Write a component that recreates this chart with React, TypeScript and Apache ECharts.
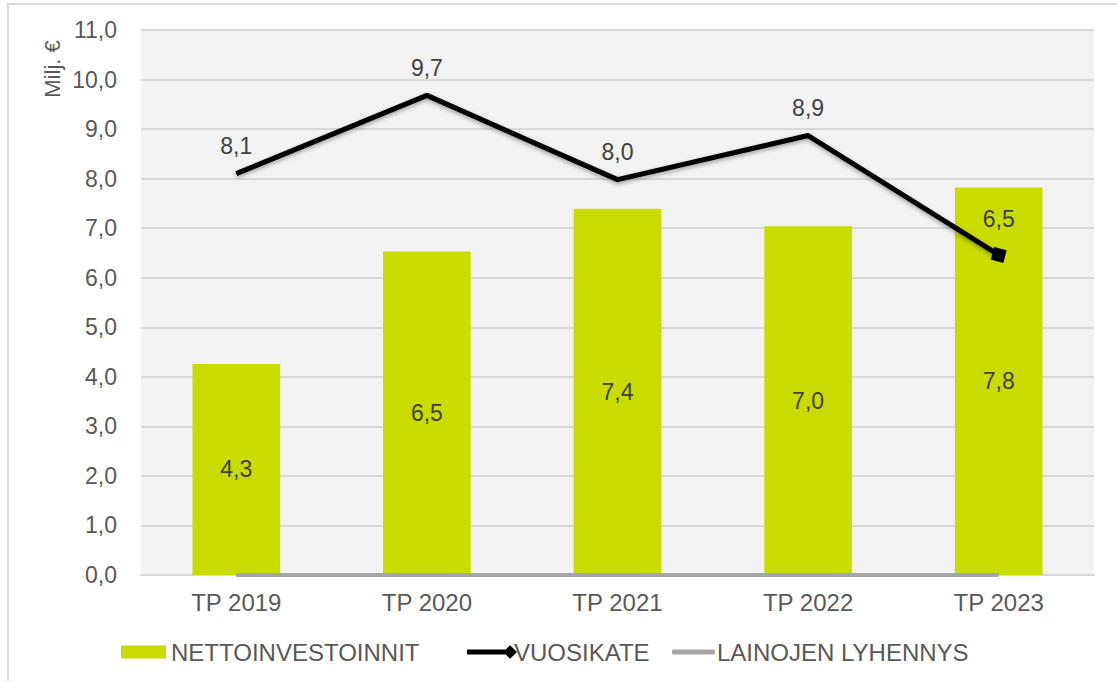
import React, { useEffect, useRef } from "react";
import * as echarts from "echarts";

const categories = ["TP 2019", "TP 2020", "TP 2021", "TP 2022", "TP 2023"];
const nettoinvestoinnit = [4.26, 6.53, 7.39, 7.04, 7.82];
const vuosikate = [8.1, 9.68, 7.98, 8.87, 6.46];
const lainojenLyhennys = [0, 0, 0, 0, 0];
const yAxisName = "Milj. €";

const TEXT = "#595959";
const FONT = "'Liberation Sans', Arial, sans-serif";
const fmt = (v: number) => v.toFixed(1).replace(".", ",");

export default function App() {
  const ref = useRef<HTMLDivElement>(null);
  useEffect(() => {
    if (!ref.current) return;
    const chart = echarts.init(ref.current, undefined, { renderer: "svg" });
    const lastIdx = vuosikate.length - 1;
    chart.setOption({
      animation: false,
      backgroundColor: "#ffffff",
      textStyle: { fontFamily: FONT },
      grid: { left: 141, right: 23, top: 30, bottom: 106, show: true, backgroundColor: "#f2f2f2", borderWidth: 0 },
      graphic: [
        {
          type: "rect",
          shape: { x: 8, y: 4, width: 1200, height: 800 },
          style: { fill: "none", stroke: "#d9d9d9", lineWidth: 2 },
          silent: true,
          z: -1,
        },
        {
          type: "text",
          x: 52,
          y: 69,
          rotation: Math.PI / 2,
          style: { text: yAxisName, fill: TEXT, font: `22px ${FONT}`, align: "center", verticalAlign: "middle" },
        },
      ],
      xAxis: {
        type: "category",
        data: categories,
        axisTick: { show: false },
        axisLine: { lineStyle: { color: "#d9d9d9", width: 2 } },
        axisLabel: { color: TEXT, fontSize: 24, margin: 15, fontFamily: FONT },
      },
      yAxis: {
        type: "value",
        min: 0,
        max: 11,
        interval: 1,
        axisLine: { show: false },
        axisTick: { show: false },
        axisLabel: { color: TEXT, fontSize: 23, margin: 24, formatter: (v: number) => fmt(v), fontFamily: FONT },
        splitLine: { lineStyle: { color: "#d9d9d9", width: 2 } },
      },
      legend: [
        {
          left: 121,
          top: 640,
          padding: 0,
          itemWidth: 45,
          itemHeight: 13,
          data: [{ name: "NETTOINVESTOINNIT", icon: "rect" }],
          textStyle: { color: TEXT, fontSize: 24, fontFamily: FONT, padding: [0, 0, 0, 0] },
          itemGap: 0,
        },
        {
          left: 467,
          top: 640,
          padding: 0,
          itemWidth: 50,
          itemHeight: 14,
          itemGap: 0,
          data: [
            {
              name: "VUOSIKATE",
              icon: "path://M0,4.5 L40,4.5 L40,9.5 L0,9.5 Z M44,0 L51,7 L44,14 L37,7 Z",
              itemStyle: { color: "#000000" },
            },
          ],
          textStyle: { color: TEXT, fontSize: 24, fontFamily: FONT, padding: [0, 0, 0, -8] },
        },
        {
          left: 672,
          top: 640,
          padding: 0,
          itemWidth: 43,
          itemHeight: 5,
          itemGap: 0,
          data: [{ name: "LAINOJEN LYHENNYS", icon: "roundRect", itemStyle: { color: "#a6a6a6" } }],
          textStyle: { color: TEXT, fontSize: 24, fontFamily: FONT, padding: [0, 0, 0, -3] },
        },
      ],
      series: [
        {
          name: "NETTOINVESTOINNIT",
          type: "bar",
          data: nettoinvestoinnit,
          barWidth: "46%",
          itemStyle: { color: "#c8dc00" },
          label: {
            show: true,
            position: "inside",
            color: "#404040",
            fontSize: 23,
            fontFamily: FONT,
            formatter: (p: any) => fmt(p.value),
          },
          z: 2,
        },
        {
          name: "VUOSIKATE",
          type: "line",
          data: vuosikate.map((v, i) =>
            i === lastIdx ? { value: v, symbol: "rect", symbolSize: 13, symbolRotate: -15 } : { value: v }
          ),
          symbol: "rect",
          symbolSize: 0,
          showSymbol: true,
          color: "#000000",
          lineStyle: { color: "#000000", width: 5, shadowBlur: 4, shadowColor: "rgba(0,0,0,0.35)", shadowOffsetY: 2 },
          itemStyle: { color: "#000000" },
          label: {
            show: true,
            position: "top",
            distance: 16,
            color: "#404040",
            fontSize: 23,
            fontFamily: FONT,
            formatter: (p: any) => fmt(typeof p.value === "number" ? p.value : p.data.value),
          },
          z: 4,
        },
        {
          name: "LAINOJEN LYHENNYS",
          type: "line",
          data: lainojenLyhennys,
          symbol: "none",
          color: "#a6a6a6",
          lineStyle: { color: "#a6a6a6", width: 4 },
          z: 3,
        },
      ],
    });
    return () => chart.dispose();
  }, []);
  return (
    <div
      ref={ref}
      style={{ position: "absolute", left: 0, top: 0, width: 1117, height: 681 }}
    />
  );
}
